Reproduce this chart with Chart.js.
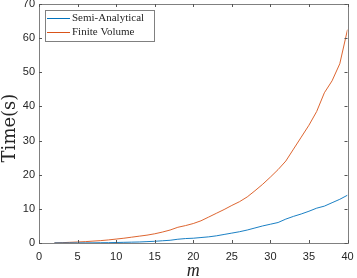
<!DOCTYPE html>
<html lang="en">
<head>
<meta charset="utf-8">
<script src="https://cdn.jsdelivr.net/npm/chart.js@4.4.1/dist/chart.umd.min.js"></script>
<style>
  html, body { margin: 0; padding: 0; background: #fff; }
  #wrap { width: 357px; height: 278px; }
</style>
</head>
<body>
<div id="wrap"><canvas id="chart" width="357" height="278"></canvas></div>
<script>
// number of modes m
var mValues = [2, 3, 4, 5, 6, 7, 8, 9, 10, 11, 12, 13, 14, 15, 16, 17, 18, 19, 20, 21,
               22, 23, 24, 25, 26, 27, 28, 29, 30, 31, 32, 33, 34, 35, 36, 37, 38, 39, 40];
// time in seconds
var semiAnalytical = [0.01, 0.01, 0.02, 0.03, 0.04, 0.05, 0.08, 0.1, 0.15, 0.2, 0.25, 0.3, 0.4, 0.5, 0.65, 0.8, 1.1, 1.3, 1.4, 1.6,
                      1.8, 2.1, 2.5, 2.9, 3.3, 3.8, 4.4, 5.0, 5.5, 6.0, 7.0, 7.8, 8.5, 9.3, 10.2, 10.8, 11.8, 12.8, 14.0];
var finiteVolume = [0.05, 0.1, 0.2, 0.3, 0.4, 0.55, 0.7, 0.9, 1.15, 1.4, 1.7, 2.0, 2.3, 2.7, 3.2, 3.8, 4.6, 5.1, 5.7, 6.5,
                    7.6, 8.7, 9.8, 11.0, 12.1, 13.5, 15.3, 17.2, 19.3, 21.5, 24.0, 27.5, 31.0, 34.5, 38.5, 44.0, 47.5, 52.5, 62.5];
var seriesNames = ['Semi-Analytical', 'Finite Volume'];
var xTicks = [0, 5, 10, 15, 20, 25, 30, 35, 40];
var yTicks = [0, 10, 20, 30, 40, 50, 60, 70];
var xLabel = 'm';
var yLabel = 'Time(s)';

function pts(ys) {
  return mValues.map(function (m, i) { return { x: m, y: ys[i] }; });
}

// matlab style box with inward ticks, axis labels and legend
var boxPlugin = {
  id: 'matlabBox',
  afterDraw: function (chart) {
    var ctx = chart.ctx;
    var a = chart.chartArea;
    var xs = chart.scales.x, ys = chart.scales.y;
    var tl = 3;
    ctx.save();
    ctx.strokeStyle = '#808080';
    ctx.lineWidth = 1;
    ctx.strokeRect(Math.round(a.left) + 0.5, Math.round(a.top) + 0.5,
                   Math.round(a.right - a.left), Math.round(a.bottom - a.top));
    ctx.strokeStyle = '#555';
    ctx.beginPath();
    xTicks.forEach(function (v) {
      var px = Math.round(xs.getPixelForValue(v)) + 0.5;
      ctx.moveTo(px, a.bottom); ctx.lineTo(px, a.bottom - tl);
      ctx.moveTo(px, a.top); ctx.lineTo(px, a.top + tl);
    });
    yTicks.forEach(function (v) {
      var py = Math.round(ys.getPixelForValue(v)) + 0.5;
      ctx.moveTo(a.left, py); ctx.lineTo(a.left + tl, py);
      ctx.moveTo(a.right, py); ctx.lineTo(a.right - tl, py);
    });
    ctx.stroke();

    // axis labels
    ctx.fillStyle = '#262626';
    ctx.textAlign = 'center';
    ctx.textBaseline = 'alphabetic';
    ctx.font = 'italic 18px "Liberation Serif"';
    ctx.fillText(xLabel, (a.left + a.right) / 2, 276);
    ctx.save();
    ctx.translate(15, 128);
    ctx.rotate(-Math.PI / 2);
    ctx.font = '18px "DejaVu Serif"';
    ctx.fillText(yLabel, 0, 0);
    ctx.restore();

    // legend
    var lx = a.left + 6, ly = a.top + 6, lw = 109, lh = 31;
    ctx.fillStyle = '#fff';
    ctx.fillRect(lx, ly, lw, lh);
    ctx.strokeStyle = '#808080';
    ctx.strokeRect(lx + 0.5, ly + 0.5, lw, lh);
    ctx.font = '11px "Liberation Serif"';
    ctx.textAlign = 'left';
    ctx.textBaseline = 'middle';
    chart.data.datasets.forEach(function (ds, i) {
      var yy = ly + 8.5 + i * 14;
      ctx.strokeStyle = ds.borderColor;
      ctx.beginPath();
      ctx.moveTo(lx + 2, yy); ctx.lineTo(lx + 25, yy);
      ctx.stroke();
      ctx.fillStyle = '#262626';
      ctx.fillText(ds.label, lx + 27, yy);
    });
    ctx.restore();
  }
};

new Chart(document.getElementById('chart'), {
  type: 'line',
  data: {
    datasets: [
      { label: seriesNames[0], data: pts(semiAnalytical), borderColor: '#0072BD', borderWidth: 0.9, pointRadius: 0, tension: 0 },
      { label: seriesNames[1], data: pts(finiteVolume), borderColor: '#D95319', borderWidth: 0.9, pointRadius: 0, tension: 0 }
    ]
  },
  options: {
    responsive: false,
    animation: false,
    layout: { padding: { top: 4, right: 9.5, left: 0, bottom: 0 } },
    plugins: { legend: { display: false }, tooltip: { enabled: false } },
    scales: {
      x: {
        type: 'linear', min: 0, max: 40,
        afterBuildTicks: function (s) { s.ticks = xTicks.map(function (v) { return { value: v }; }); },
        afterFit: function (s) { s.height = 35; s.paddingRight = 0; s.paddingLeft = 0; },
        grid: { drawOnChartArea: false, drawTicks: false },
        border: { display: false },
        ticks: { color: '#262626', font: { family: 'Liberation Sans', size: 11 }, padding: 7, maxRotation: 0 }
      },
      y: {
        type: 'linear', min: 0, max: 70,
        afterBuildTicks: function (s) { s.ticks = yTicks.map(function (v) { return { value: v }; }); },
        afterFit: function (s) { s.width = 39; s.paddingTop = 0; s.paddingBottom = 0; },
        grid: { drawOnChartArea: false, drawTicks: false },
        border: { display: false },
        ticks: { color: '#262626', font: { family: 'Liberation Sans', size: 11 }, padding: 4 }
      }
    }
  },
  plugins: [boxPlugin]
});
</script>
</body>
</html>
